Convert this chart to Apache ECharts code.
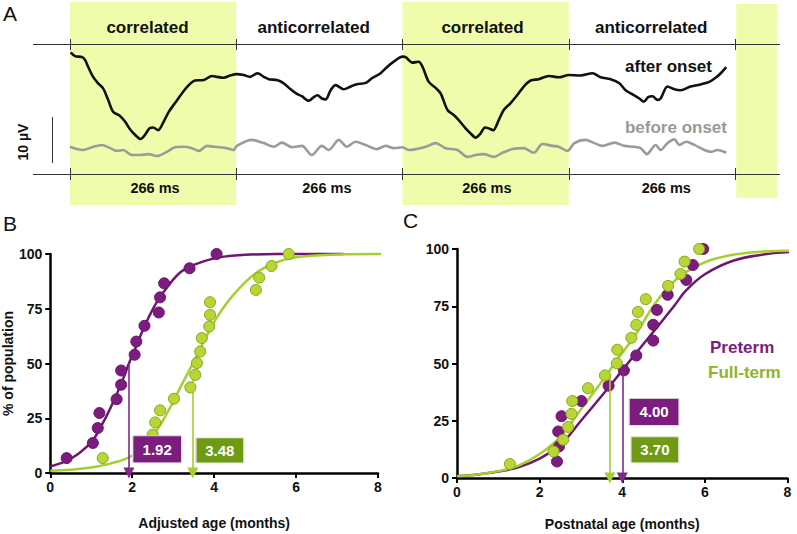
<!DOCTYPE html>
<html><head><meta charset="utf-8">
<script src="https://cdn.jsdelivr.net/npm/echarts@6/dist/echarts.min.js"></script>
<style>html,body{margin:0;padding:0;background:#fff}#c{width:797px;height:534px}</style>
</head><body><div id="c"></div>
<script>
// ---------- Panel A data (time in ms, amplitude in µV) ----------
const phaseNames = ['correlated','anticorrelated','correlated','anticorrelated'];
const phaseDuration = 266;
const phaseLabelT = [124, 390, 660, 930];
const durLabelT = [136, 411, 667, 954];
const durLabel = '266 ms';
const tAfter = [1,8,19,24,29,37,45,53,61,69,80,88,96,104,113,120,127,133,141,150,158,168,179,190,200,214,227,235,246,256,267,278,288,300,310,318,331,342,353,363,371,382,390,396,403,409,417,425,438,449,459,473,483,497,507,518,532,537,548,558,564,574,585,593,604,614,622,633,641,649,657,664,670,677,686,694,705,716,726,737,750,766,782,798,817,836,849,865,879,889,900,911,918,925,932,940,945,956,967,977,993,1010,1023,1034,1042,1050];
const vAfter = [21.2,20.4,20.2,19.6,18.1,15.9,14.5,13.4,10.9,8.3,7.4,6.2,4.5,3.3,2.4,3.3,4.7,4.9,4.3,6.2,8.3,10.2,12.3,14.1,15.1,15.2,16.1,15.9,15.7,16.2,16.5,16.3,15.9,16.7,15.9,15.4,15.2,14.5,13.2,12.2,11.7,10.7,11.5,11.9,11.2,11.0,13.0,14.1,13.2,13.8,14.3,14.6,15.6,16.7,18.0,19.2,20.3,20.2,19.0,19.2,18.1,14.8,13.5,12.3,8.7,7.6,6.5,4.7,3.6,2.7,3.6,4.9,4.7,4.3,6.5,8.7,10.2,12.0,13.8,15.1,15.4,16.1,15.8,16.3,16.2,16.7,15.8,15.4,14.5,13.0,12.1,11.2,10.5,11.5,11.7,10.9,11.2,13.8,13.2,13.0,13.8,14.3,14.8,15.8,16.8,18.0];
const tBefore = [0,11,21,35,51,64,75,85,99,112,125,139,155,168,182,195,206,219,230,240,251,262,267,291,310,326,339,355,371,387,403,414,430,443,457,473,491,505,518,532,542,569,585,601,620,636,649,662,678,692,708,726,742,756,772,782,796,807,825,839,852,871,887,903,913,923,937,945,956,967,975,986,999,1015,1026,1036,1050];
const vBefore = [0.7,0.2,0,0.6,1.1,0.4,-0.2,0,-1.1,-1.1,-0.9,-1.3,-0.4,0.6,0.7,0.4,-0.2,0.9,0.7,0.6,0.4,0,0.9,2.2,1.5,0.7,1.6,0.6,0.9,-1.1,0.9,0,2.2,0.7,1.8,1.1,0.2,0.9,0.4,0.6,0,0.7,1.5,0.4,0,-1.5,-1.1,-0.9,-1.5,-0.6,0.2,0.4,-0.6,1.3,0.9,0.7,-0.2,1.5,2.2,1.5,0.9,1.6,0.9,0.7,0.4,-0.9,1.1,0,1.5,2.3,1.1,1.8,1.1,0,-0.4,0,-0.6];
const scaleBarUV = 10;

// ---------- Panel B data (adjusted age) ----------
const bPreX = [0.40,1.04,1.16,1.20,1.62,1.73,1.73,2.06,2.10,2.30,2.65,2.68,2.78,3.40,4.06];
const bPreY = [6.8,13.7,20.5,27.4,33.7,40.3,46.8,54.0,60.0,67.2,73.3,80.2,86.6,93.5,100];
const bFullX = [1.28,2.48,2.50,2.56,2.68,3.02,3.42,3.54,3.58,3.66,3.70,3.88,3.90,3.90,5.02,5.10,5.40,5.82];
const bFullY = [6.8,11.1,17.5,23.1,28.6,33.9,39.1,44.8,50.2,55.5,61.6,66.9,72.2,78.0,83.6,89.2,94.5,100];
const bPreCurveX = [0,0.5,1.0,1.2,1.4,1.6,1.8,1.92,2.1,2.3,2.6,2.9,3.2,3.5,4.0,4.5,5.5,7.16];
const bPreCurveY = [3,6.5,14,20,27,35,44,50,58,67,78,86,92,95,98,99.3,100,100];
const bFullCurveX = [0,0.5,1.0,1.5,2.0,2.5,2.9,3.2,3.48,3.8,4.1,4.5,5.0,5.5,6.0,7.0,8.16];
const bFullCurveY = [1,1.5,2.5,4.5,8,17,29,40,50,62,72,82,91,96,98.5,99.8,100];
const bMedians = [1.92, 3.48];
const bMedianLevel = [50, 46];

// ---------- Panel C data (postnatal age) ----------
const cPreX = [2.42,2.47,2.45,2.53,3.01,3.67,4.04,4.34,4.75,4.75,4.84,5.10,5.55,5.71,5.96];
const cPreY = [7.2,13.8,20.3,27.0,33.6,40.3,47.0,53.5,60.0,66.9,73.4,80.0,86.5,93.0,100];
const cFullX = [1.28,2.34,2.57,2.69,2.77,2.79,3.17,3.58,3.87,3.88,4.22,4.34,4.38,4.57,5.11,5.41,5.51,5.86];
const cFullY = [6.1,11.6,16.7,22.3,28.0,33.6,39.2,44.8,50.1,56.0,61.2,66.9,72.5,78.1,83.9,89.1,94.5,100];
const cPreCurveX = [0,0.5,1.0,1.5,2.0,2.5,3.0,3.6,4.0,4.4,4.85,5.25,5.55,6.0,6.7,7.5,8.2];
const cPreCurveY = [0.8,1.5,2.8,4.8,8.5,14.5,25,38,47,56,66,75,82,89,95,97.8,98.8];
const cFullCurveX = [0,0.5,1.0,1.5,2.0,2.5,3.0,3.5,3.87,4.3,4.75,5.15,5.55,6.2,7.1,8.2];
const cFullCurveY = [0.8,1.5,3,5.5,10.5,18,30,42,51.5,62,75,84,90,95.5,98.5,99.3];
const cMedians = [4.00, 3.70];
const cMedianLevel = [47, 45];

const ageTicks = {min:0, max:8, interval:2};
const pctTicks = {min:0, max:100, interval:25};
const groupNames = ['Preterm','Full-term'];

// ---------- styles ----------
const FONT = '"Liberation Sans", Arial, sans-serif';
const PURPLE = '#7b1c7e', PURPLE_LINE = '#6e1770', PURPLE_ARROW = '#80288a';
const GREEN_FILL = '#b8d737', GREEN_EDGE = '#86a51c', GREEN_LINE = '#a4cf2e', GREEN_BOX = '#6f9a14', GREEN_TEXT = '#8db52a';
const RECT = '#effcab';

const zip = (xs, ys) => xs.map((x, i) => [x, ys[i]]);

const A_TOP_LINE = 23.04, A_BOT_LINE = -5.22;
const ticksT = phaseNames.map((_, i) => i * phaseDuration).concat([phaseNames.length * phaseDuration]);

const aMarkLines = [
  [{coord:[-59.2, A_TOP_LINE]}, {coord:[1136, A_TOP_LINE]}],
  [{coord:[-59.2, A_BOT_LINE]}, {coord:[1136, A_BOT_LINE]}]
];
ticksT.forEach(t => {
  aMarkLines.push([{coord:[t, 24.13]}, {coord:[t, 21.74]}]);
  aMarkLines.push([{coord:[t, -3.91]}, {coord:[t, -6.52]}]);
});
const scaleLine = [[{coord:[-28.5, 7.17]}, {coord:[-28.5, 7.17 - scaleBarUV]}]];

const aRects = [
  [{coord:[0, 32.17]}, {coord:[phaseDuration, -11.96]}],
  [{coord:[2*phaseDuration, 32.17]}, {coord:[3*phaseDuration, -11.96]}],
  [{coord:[1066, 31.74]}, {coord:[1132, -10.43]}]
];
const aLabels = phaseNames.map((n, i) => ({coord:[phaseLabelT[i], 26.7], value:n}))
  .concat(durLabelT.map(t => ({coord:[t, -8.3], value:durLabel})));

function axisX(gridIndex, name, gap, margin) {
  return {gridIndex, type:'value', min:ageTicks.min, max:ageTicks.max, interval:ageTicks.interval,
    axisLine:{show:true, onZero:false, lineStyle:{color:'#000', width:2.5}},
    axisTick:{show:true, length:5, lineStyle:{color:'#000', width:2}},
    axisLabel:{color:'#111', fontFamily:FONT, fontWeight:'bold', fontSize:14, margin},
    splitLine:{show:false},
    name, nameLocation:'middle', nameGap:gap,
    nameTextStyle:{color:'#111', fontFamily:FONT, fontWeight:'bold', fontSize:14}};
}
function axisY(gridIndex, name) {
  return {gridIndex, type:'value', min:pctTicks.min, max:pctTicks.max, interval:pctTicks.interval,
    axisLine:{show:true, onZero:false, lineStyle:{color:'#000', width:2.5}},
    axisTick:{show:true, length:5, lineStyle:{color:'#000', width:2}},
    axisLabel:{color:'#111', fontFamily:FONT, fontWeight:'bold', fontSize:14, margin:8},
    splitLine:{show:false},
    name, nameLocation:'middle', nameGap:27, nameRotate:90,
    nameTextStyle:{color:'#111', fontFamily:FONT, fontWeight:'bold', fontSize:14}};
}
function curve(idx, xs, ys, color) {
  return {type:'line', xAxisIndex:idx, yAxisIndex:idx, data:zip(xs, ys), smooth:0.4,
    symbol:'none', clip:false, lineStyle:{color, width:2.5}, z:2, silent:true};
}
function dots(idx, xs, ys, fill, edge, median, level, arrowColor, z) {
  return {type:'scatter', xAxisIndex:idx, yAxisIndex:idx, data:zip(xs, ys), symbolSize:11,
    itemStyle:{color:fill, borderColor:edge, borderWidth:1, opacity:1}, z,
    markLine:{silent:true, symbol:['none','triangle'], symbolSize:11, animation:false,
      label:{show:false}, lineStyle:{color:arrowColor, width:1.6, type:'solid'},
      data:[[{coord:[median, level]}, {coord:[median, 0]}]]}};
}
function boxes(idx, items) {
  return {type:'scatter', xAxisIndex:idx, yAxisIndex:idx, z:10, silent:true, symbol:'rect',
    label:{show:true, position:'inside', color:'#fff', fontFamily:FONT, fontWeight:'bold', fontSize:15,
      formatter:p => Number(p.value[2]).toFixed(2)},
    data:items.map(it => ({value:[it.coord[0], it.coord[1], it.value], symbolSize:it.size,
      itemStyle:{color:it.color, borderColor:'#e6e6e6', borderWidth:1, opacity:1}}))};
}

const option = {
  animation:false,
  backgroundColor:'#fff',
  textStyle:{fontFamily:FONT},
  grid:[
    {left:33, top:0, width:747, height:210},
    {left:45, top:254, width:333, height:219},
    {left:457, top:249, width:330.5, height:229}
  ],
  xAxis:[
    {gridIndex:0, type:'value', min:-59.2, max:1136, show:false},
    axisX(1, 'Adjusted age (months)', 43, 7),
    axisX(2, 'Postnatal age (months)', 39, 7)
  ],
  yAxis:[
    {gridIndex:0, type:'value', min:-13.043, max:32.609, show:false},
    axisY(1, '% of population'),
    axisY(2, '')
  ],
  series:[
    {type:'line', xAxisIndex:0, yAxisIndex:0, data:[], z:0, silent:true,
      markArea:{silent:true, itemStyle:{color:RECT}, data:aRects}},
    {type:'line', xAxisIndex:0, yAxisIndex:0, data:zip(tBefore, vBefore), smooth:0.3, symbol:'none',
      lineStyle:{color:'#9b9b9b', width:2.6}, z:2, silent:true},
    {type:'line', xAxisIndex:0, yAxisIndex:0, data:zip(tAfter, vAfter), smooth:0.3, symbol:'none',
      lineStyle:{color:'#111', width:2.6}, z:3, silent:true,
      markLine:{silent:true, symbol:'none', animation:false, label:{show:false},
        lineStyle:{color:'#333', width:1, type:'solid'}, data:aMarkLines.concat(scaleLine)},
      markPoint:{symbol:'circle', symbolSize:0, animation:false,
        label:{show:true, position:'inside', color:'#111', fontFamily:FONT, fontWeight:'bold',
          formatter:p => p.value},
        data:aLabels.map((d, i) => Object.assign({}, d, {label:{fontSize: i < 4 ? 17 : 14.5}}))}},
    curve(1, bPreCurveX, bPreCurveY, PURPLE_LINE),
    curve(1, bFullCurveX, bFullCurveY, GREEN_LINE),
    dots(1, bPreX, bPreY, PURPLE, '#6a1470', bMedians[0], bMedianLevel[0], PURPLE_ARROW, 4),
    dots(1, bFullX, bFullY, GREEN_FILL, GREEN_EDGE, bMedians[1], bMedianLevel[1], GREEN_LINE, 5),
    boxes(1, [
      {coord:[2.61, 10.8], value:bMedians[0], size:[49, 27], color:PURPLE},
      {coord:[4.14, 10.3], value:bMedians[1], size:[48, 25], color:GREEN_BOX}
    ]),
    curve(2, cPreCurveX, cPreCurveY, PURPLE_LINE),
    curve(2, cFullCurveX, cFullCurveY, GREEN_LINE),
    dots(2, cPreX, cPreY, PURPLE, '#6a1470', cMedians[0], cMedianLevel[0], PURPLE_ARROW, 4),
    dots(2, cFullX, cFullY, GREEN_FILL, GREEN_EDGE, cMedians[1], cMedianLevel[1], GREEN_LINE, 5),
    boxes(2, [
      {coord:[4.77, 28.9], value:cMedians[0], size:[50, 27], color:PURPLE},
      {coord:[4.79, 12.3], value:cMedians[1], size:[48, 26], color:GREEN_BOX}
    ])
  ],
  graphic:[
    {type:'text', left:3, top:3, style:{text:'A', font:'21px ' + FONT, fill:'#111'}},
    {type:'text', left:3, top:213, style:{text:'B', font:'21px ' + FONT, fill:'#111'}},
    {type:'text', left:403, top:210, style:{text:'C', font:'21px ' + FONT, fill:'#111'}},
    {type:'text', x:712, y:66.5, style:{text:'after onset', font:'bold 17px ' + FONT, fill:'#111', align:'right', verticalAlign:'middle'}},
    {type:'text', x:727, y:127.5, style:{text:'before onset', font:'bold 17px ' + FONT, fill:'#999', align:'right', verticalAlign:'middle'}},
    {type:'text', x:23, y:142, rotation:Math.PI/2, style:{text:scaleBarUV + ' µV', font:'bold 14px ' + FONT, fill:'#111', align:'center', verticalAlign:'middle'}},
    {type:'text', x:710, y:347, style:{text:groupNames[0], font:'bold 17px ' + FONT, fill:PURPLE, align:'left', verticalAlign:'middle'}},
    {type:'text', x:708, y:372.5, style:{text:groupNames[1], font:'bold 17px ' + FONT, fill:GREEN_TEXT, align:'left', verticalAlign:'middle'}}
  ]
};
const chart = echarts.init(document.getElementById('c'), null, {renderer:'svg'});
chart.setOption(option);
</script></body></html>
